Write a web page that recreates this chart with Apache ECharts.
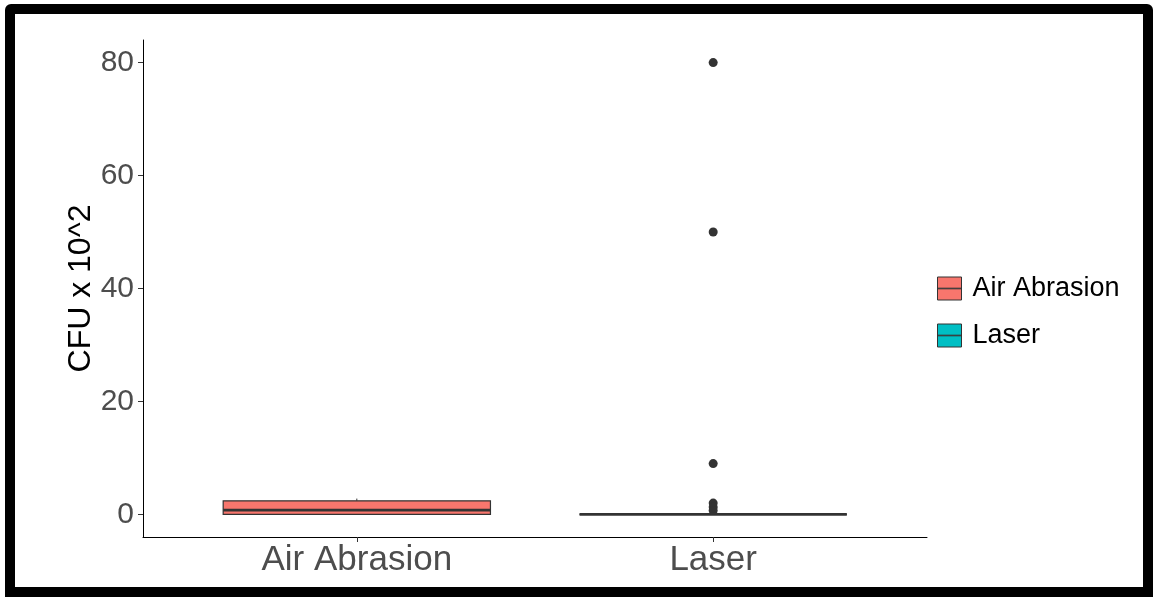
<!DOCTYPE html>
<html>
<head>
<meta charset="utf-8">
<script src="https://cdn.jsdelivr.net/npm/echarts@6/dist/echarts.min.js"></script>
<style>
  html, body { margin: 0; padding: 0; background: #fff; }
  #chart { position: absolute; left: 0; top: 0; width: 1154px; height: 597px; }
  #frame { position: absolute; left: 5px; top: 4px; width: 1148px; height: 593px;
           border: 10px solid #000; box-sizing: border-box; border-radius: 6px 6px 0 0; pointer-events: none; z-index: 10; }
</style>
</head>
<body>
<div id="chart"></div>
<div id="frame"></div>
<script>
// ---- data ----
const categories = ['Air Abrasion', 'Laser'];
const categoryPos = [1, 2];
// [min, Q1, median, Q3, max]
const airAbrasionBox = [0, 0, 0.75, 2.4, 2.8];
const laserBox = [0, 0, 0, 0, 0];
const laserOutliers = [80, 50, 9, 2, 1.3, 0.7];
const yTicks = [0, 20, 40, 60, 80];
const boxColors = ['#F8766D', '#00BFC4'];

const FONT = "'Liberation Sans', Arial, Helvetica, sans-serif";

function renderBox(params, api) {
  const x = api.value(0);
  const mn = api.value(1), q1 = api.value(2), md = api.value(3), q3 = api.value(4), mx = api.value(5);
  const halfW = api.size([0.75, 0])[0] / 2;
  const pMin = api.coord([x, mn]);
  const pQ1 = api.coord([x, q1]);
  const pMd = api.coord([x, md]);
  const pQ3 = api.coord([x, q3]);
  const pMax = api.coord([x, mx]);
  const color = api.visual('color');
  const stroke = '#333333';
  return {
    type: 'group',
    children: [
      { type: 'line', shape: { x1: pMax[0], y1: pMax[1], x2: pQ3[0], y2: pQ3[1] }, style: { stroke: stroke, lineWidth: 1 } },
      { type: 'line', shape: { x1: pQ1[0], y1: pQ1[1], x2: pMin[0], y2: pMin[1] }, style: { stroke: stroke, lineWidth: 1 } },
      { type: 'rect', shape: { x: pQ3[0] - halfW, y: pQ3[1], width: halfW * 2, height: pQ1[1] - pQ3[1] },
        style: { fill: color, stroke: stroke, lineWidth: 1.2 } },
      { type: 'line', shape: { x1: pMd[0] - halfW, y1: pMd[1], x2: pMd[0] + halfW, y2: pMd[1] },
        style: { stroke: stroke, lineWidth: 2.6 } }
    ]
  };
}

const boxSeries = [airAbrasionBox, laserBox].map(function (vals, i) {
  return {
    name: categories[i],
    type: 'custom',
    renderItem: renderBox,
    itemStyle: { color: boxColors[i], borderColor: '#333', borderWidth: 1 },
    encode: { x: 0, y: [1, 2, 3, 4, 5] },
    data: [[categoryPos[i]].concat(vals)],
    z: 2
  };
});

const outlierSeries = {
  name: 'outliers',
  type: 'scatter',
  symbolSize: 9,
  itemStyle: { color: '#333333', opacity: 1 },
  data: laserOutliers.map(function (v) { return [categoryPos[1], v]; }),
  z: 3
};

const legendIcon = 'path://M0,0H24V23H0Z M0,11.2V11.8H24V11.2Z';

const chart = echarts.init(document.getElementById('chart'), null, { renderer: 'canvas' });
chart.setOption({
  animation: false,
  backgroundColor: '#ffffff',
  grid: { left: 143, right: 227, top: 40, bottom: 60 },
  xAxis: {
    type: 'value',
    min: 0.4,
    max: 2.6,
    splitLine: { show: false },
    axisLine: { show: true, onZero: false, lineStyle: { color: '#000', width: 1 } },
    axisTick: { show: true, length: 5, lineStyle: { color: '#333', width: 1 }, customValues: categoryPos },
    axisLabel: {
      customValues: categoryPos,
      formatter: function (v) { const i = categoryPos.indexOf(v); return i >= 0 ? categories[i] : ''; },
      fontSize: 35, color: '#4d4d4d', fontFamily: FONT, margin: 6
    }
  },
  yAxis: {
    type: 'value',
    min: -4,
    max: 84,
    name: 'CFU x 10^2',
    nameLocation: 'middle',
    nameGap: 46,
    nameMoveOverlap: false,
    nameTextStyle: { fontSize: 32, color: '#000', fontFamily: FONT },
    splitLine: { show: false },
    axisLine: { show: true, onZero: false, lineStyle: { color: '#000', width: 1 } },
    axisTick: { show: true, length: 5, lineStyle: { color: '#333', width: 1 }, customValues: yTicks },
    axisLabel: { customValues: yTicks, fontSize: 30, color: '#4d4d4d', fontFamily: FONT, margin: 9 }
  },
  legend: {
    orient: 'vertical',
    left: 932,
    top: 270,
    itemWidth: 24,
    itemHeight: 23,
    itemGap: 20,
    textStyle: { fontSize: 27, color: '#000', fontFamily: FONT, padding: [0, 0, 0, 6] },
    data: categories.map(function (c, i) {
      return { name: c, icon: legendIcon, itemStyle: { color: boxColors[i], borderColor: '#333', borderWidth: 1 } };
    })
  },
  series: boxSeries.concat([outlierSeries])
});
</script>
</body>
</html>
